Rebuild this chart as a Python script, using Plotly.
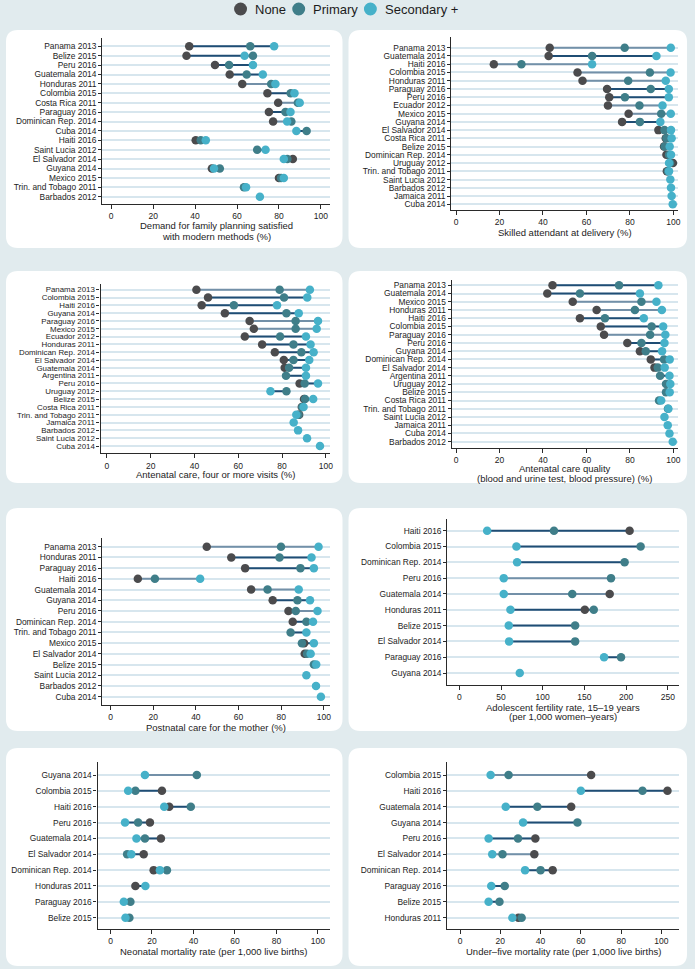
import plotly.graph_objects as go

W, H = 695, 969

# ------------------------------------------------------------------ data
fp_countries = ["Panama 2013", "Belize 2015", "Peru 2016", "Guatemala 2014", "Honduras 2011",
                "Colombia 2015", "Costa Rica 2011", "Paraguay 2016", "Dominican Rep. 2014", "Cuba 2014",
                "Haiti 2016", "Saint Lucia 2012", "El Salvador 2014", "Guyana 2014", "Mexico 2015",
                "Trin. and Tobago 2011", "Barbados 2012"]
fp_none = [37.2, 35.9, 49.5, 56.5, 62.5, 74.5, 79.6, 75.2, 77.2, None, 40.3, None, 86.6, 48.0, 80.0, None, None]
fp_primary = [66.3, 67.6, 56.2, 64.6, 76.3, 85.6, 89.0, 83.1, 85.9, 93.2, 42.7, 69.6, 84.0, 51.8, 81.0, 63.3, None]
fp_secondary = [77.7, 63.6, 67.6, 72.3, 78.3, 87.4, 89.9, 85.5, 83.9, 88.3, 45.1, 73.6, 82.3, 49.0, 82.3, 64.3, 70.9]

sba_countries = ["Panama 2013", "Guatemala 2014", "Haiti 2016", "Colombia 2015", "Honduras 2011",
                 "Paraguay 2016", "Peru 2016", "Ecuador 2012", "Mexico 2015", "Guyana 2014",
                 "El Salvador 2014", "Costa Rica 2011", "Belize 2015", "Dominican Rep. 2014", "Uruguay 2012",
                 "Trin. and Tobago 2011", "Saint Lucia 2012", "Barbados 2012", "Jamaica 2011", "Cuba 2014"]
sba_none = [43.1, 42.6, 17.4, 55.9, 58.2, 69.5, 70.5, 69.9, 79.4, 76.4, 93.1, 96.5, 95.7, 96.8, 99.8, 97.0,
            None, None, None, None]
sba_primary = [77.6, 62.6, 30.1, 89.2, 79.2, 89.6, 77.7, 84.4, 94.4, 84.6, 95.9, 96.8, 96.0, 98.0, 98.5, 97.5,
               None, None, None, None]
sba_secondary = [98.8, 92.2, 62.6, 98.7, 96.5, 97.9, 97.9, 95.0, 98.8, 94.0, 98.9, 99.2, 98.3, 98.9, 98.0, 98.0,
                 98.6, 98.9, 99.2, 99.7]

anc4_countries = ["Panama 2013", "Colombia 2015", "Haiti 2016", "Guyana 2014", "Paraguay 2016", "Mexico 2015",
                  "Ecuador 2012", "Honduras 2011", "Dominican Rep. 2014", "El Salvador 2014", "Guatemala 2014",
                  "Argentina 2011", "Peru 2016", "Uruguay 2012", "Belize 2015", "Costa Rica 2011",
                  "Trin. and Tobago 2011", "Jamaica 2011", "Barbados 2012", "Saint Lucia 2012", "Cuba 2014"]
anc4_none = [40.9, 46.2, 43.3, 53.9, 65.2, 67.1, 63.0, 70.9, 76.7, 80.8, 81.2, None, 88.0, None, 90.0, 89.0,
             87.8, None, None, None, None]
anc4_primary = [78.9, 80.9, 58.0, 82.0, 86.2, 86.2, 79.1, 85.2, 88.8, 85.2, 83.2, 81.8, 90.3, 82.0, 90.5, 89.2,
                87.5, None, None, None, None]
anc4_secondary = [92.7, 91.5, 77.7, 87.6, 96.4, 95.8, 90.9, 93.0, 94.4, 92.4, 90.9, 90.9, 96.4, 74.7, 94.2, 89.8,
                  86.5, 85.3, 87.3, 91.4, 97.3]

ancq_countries = ["Panama 2013", "Guatemala 2014", "Mexico 2015", "Honduras 2011", "Haiti 2016", "Colombia 2015",
                  "Paraguay 2016", "Peru 2016", "Guyana 2014", "Dominican Rep. 2014", "El Salvador 2014",
                  "Argentina 2011", "Uruguay 2012", "Belize 2015", "Costa Rica 2011", "Trin. and Tobago 2011",
                  "Saint Lucia 2012", "Jamaica 2011", "Cuba 2014", "Barbados 2012"]
ancq_none = [44.4, 42.0, 53.7, 64.7, 57.0, 66.6, 68.1, 78.8, 84.6, 89.6, 91.3, None, None, None, None, None,
             None, None, None, None]
ancq_primary = [75.0, 57.0, 85.3, 82.3, 68.5, 90.0, 89.3, 85.3, 87.3, 95.7, 92.8, 93.9, 96.6, 96.6, 93.4, 97.5,
                None, None, None, None]
ancq_secondary = [93.1, 84.6, 92.2, 94.7, 86.4, 95.3, 96.3, 95.9, 94.8, 98.3, 96.0, 98.2, 98.6, 98.3, 94.4, 97.7,
                  95.9, 97.4, 98.2, 99.7]

pnc_countries = ["Panama 2013", "Honduras 2011", "Paraguay 2016", "Haiti 2016", "Guatemala 2014", "Guyana 2014",
                 "Peru 2016", "Dominican Rep. 2014", "Trin. and Tobago 2011", "Mexico 2015", "El Salvador 2014",
                 "Belize 2015", "Saint Lucia 2012", "Barbados 2012", "Cuba 2014"]
pnc_none = [45.1, 56.6, 63.1, 12.8, 65.9, 76.0, 83.4, 85.4, None, 90.7, 91.0, None, None, None, None]
pnc_primary = [79.9, 79.2, 89.0, 20.8, 73.6, 87.6, 86.8, 91.8, 84.4, 89.7, 92.1, 95.3, None, None, None]
pnc_secondary = [97.5, 94.2, 95.3, 42.0, 88.2, 93.5, 97.0, 94.9, 91.8, 95.3, 93.8, 96.4, 91.8, 96.3, 98.6]

afr_countries = ["Haiti 2016", "Colombia 2015", "Dominican Rep. 2014", "Peru 2016", "Guatemala 2014",
                 "Honduras 2011", "Belize 2015", "El Salvador 2014", "Paraguay 2016", "Guyana 2014"]
afr_none = [204.2, None, None, None, 180.3, 150.5, None, None, None, None]
afr_primary = [113.5, 217.4, 198.2, 181.9, 135.4, 161.2, 138.9, 138.9, 193.9, None]
afr_secondary = [33.4, 68.5, 69.3, 53.3, 53.3, 61.3, 59.3, 59.7, 173.6, 72.5]

nmr_countries = ["Guyana 2014", "Colombia 2015", "Haiti 2016", "Peru 2016", "Guatemala 2014", "El Salvador 2014",
                 "Dominican Rep. 2014", "Honduras 2011", "Paraguay 2016", "Belize 2015"]
nmr_none = [None, 24.8, 28.3, 19.0, 24.3, 16.0, 20.8, 12.0, None, None]
nmr_primary = [41.6, 12.0, 38.7, 13.3, 16.6, 8.0, 27.2, None, 9.6, 9.1]
nmr_secondary = [16.6, 8.5, 25.9, 7.0, 12.5, 10.0, 23.8, 16.8, 6.4, 7.2]

u5_countries = ["Colombia 2015", "Haiti 2016", "Guatemala 2014", "Guyana 2014", "Peru 2016", "El Salvador 2014",
                "Dominican Rep. 2014", "Paraguay 2016", "Belize 2015", "Honduras 2011"]
u5_none = [65.1, 103.0, 55.2, None, 37.4, 36.9, 46.0, None, None, 29.0]
u5_primary = [24.1, 90.6, 38.4, 58.3, 28.8, 21.1, 40.0, 22.2, 19.6, 30.6]
u5_secondary = [15.2, 60.0, 22.7, 31.3, 14.2, 16.0, 32.3, 15.5, 14.2, 26.0]

pct_ticks = [0, 20, 40, 60, 80, 100]
afr_ticks = [0, 50, 100, 150, 200, 250]

# ------------------------------------------------------------------ style
FONT = "Liberation Sans, Arial, Helvetica, sans-serif"
TXT = "#1c1c1c"
BG = "#e1ebee"
GRID = "#d7e6ee"
AXC = "#2a2a2a"
C_NONE, C_PRIM, C_SEC = "#4b4b4d", "#3f7e89", "#46b1c9"
LINE_DARK, LINE_LIGHT = "#1f4d74", "#7390a8"
F_TICK, F_NUM, F_TITLE, F_LEG = 8.4, 8.5, 9.5, 13

# rows drawn with the lighter connector
LIGHT_ROWS = [
    {"Honduras 2011", "Costa Rica 2011", "Dominican Rep. 2014"},
    {"Panama 2013", "Haiti 2016", "Colombia 2015", "Honduras 2011", "Ecuador 2012", "Mexico 2015"},
    {"Panama 2013", "Paraguay 2016", "Mexico 2015"},
    {"Mexico 2015", "Honduras 2011", "Paraguay 2016"},
    {"Panama 2013", "Haiti 2016", "Guatemala 2014", "Peru 2016"},
    {"Peru 2016", "Guatemala 2014"},
    {"Guyana 2014"},
    {"Colombia 2015", "El Salvador 2014"},
]

panels = [
    dict(c=fp_countries, n=fp_none, p=fp_primary, s=fp_secondary, ticks=pct_ticks, fs=F_TICK,
         box=(102.7, 331.7, 38, 204), tk=(111.7, 322.3), cat=(46.3, 196.7),
         title=[("Demand for family planning satisfied", 226), ("with modern methods (%)", 236)]),
    dict(c=sba_countries, n=sba_none, p=sba_primary, s=sba_secondary, ticks=pct_ticks, fs=F_TICK,
         box=(453.3, 681, 37, 210), tk=(458, 676.3), cat=(47.7, 204.3),
         title=[("Skilled attendant at delivery (%)", 232)]),
    dict(c=anc4_countries, n=anc4_none, p=anc4_primary, s=anc4_secondary, ticks=pct_ticks, fs=7.9,
         box=(101, 331.7, 284, 453.3), tk=(107.3, 327.3), cat=(289.7, 446),
         title=[("Antenatal care, four or more visits (%)", 474.5)]),
    dict(c=ancq_countries, n=ancq_none, p=ancq_primary, s=ancq_secondary, ticks=pct_ticks, fs=F_TICK,
         box=(453.7, 681, 280, 447.7), tk=(458, 676.3), cat=(285.3, 441.7),
         title=[("Antenatal care quality", 469), ("(blood and urine test, blood pressure) (%)", 478)]),
    dict(c=pnc_countries, n=pnc_none, p=pnc_primary, s=pnc_secondary, ticks=pct_ticks, fs=F_TICK,
         box=(102.7, 331.7, 537.7, 705), tk=(111, 325.3), cat=(546.7, 696.7),
         title=[("Postnatal care for the mother (%)", 727)]),
    dict(c=afr_countries, n=afr_none, p=afr_primary, s=afr_secondary, ticks=afr_ticks, fs=F_TICK,
         box=(449.3, 682.3, 519, 685), tk=(461.3, 670.7), cat=(530.7, 673),
         title=[("Adolescent fertility rate, 15\u201319 years", 707), ("(per 1,000 women\u2013years)", 716)]),
    dict(c=nmr_countries, n=nmr_none, p=nmr_primary, s=nmr_secondary, ticks=pct_ticks, fs=F_TICK,
         box=(98, 331.7, 762.3, 929), tk=(111, 319.3), cat=(775, 917.7),
         title=[("Neonatal mortality rate (per 1,000 live births)", 951)]),
    dict(c=u5_countries, n=u5_none, p=u5_primary, s=u5_secondary, ticks=pct_ticks, fs=F_TICK,
         box=(449, 682.3, 762.3, 929), tk=(462, 664.3), cat=(775, 917.7),
         title=[("Under\u2013five mortality rate (per 1,000 live births)", 951)]),
]

fig = go.Figure()
layout = dict(width=W, height=H, autosize=False, margin=dict(l=0, r=0, t=0, b=0),
              paper_bgcolor=BG, plot_bgcolor="rgba(0,0,0,0)", showlegend=False,
              font=dict(family=FONT, color=TXT, size=F_TICK))
shapes, annotations = [], []


def rounded(x0, x1, y0, y1, r=12):
    X = lambda v: v / W
    Y = lambda v: 1 - v / H
    return ("M {a},{b} L {c},{b} Q {d},{b} {d},{e} L {d},{f} Q {d},{g} {c},{g} "
            "L {a},{g} Q {h},{g} {h},{f} L {h},{e} Q {h},{b} {a},{b} Z").format(
        a=X(x0 + r), b=Y(y0), c=X(x1 - r), d=X(x1), e=Y(y0 + r), f=Y(y1 - r), g=Y(y1), h=X(x0))


# white panels
for (x0, x1) in [(6, 344), (350, 690)]:
    for (y0, y1) in [(30, 248), (271, 483), (508, 731), (748, 966)]:
        shapes.append(dict(type="path", xref="paper", yref="paper", path=rounded(x0, x1, y0, y1),
                           fillcolor="#ffffff", line=dict(width=0), layer="below"))

for k, pn in enumerate(panels, start=1):
    sfx = "" if k == 1 else str(k)
    xa, ya = "x" + sfx, "y" + sfx
    cats = pn["c"]
    nrow = len(cats)
    ypos = list(range(nrow))
    light = LIGHT_ROWS[k - 1]

    for tone, color in (("dark", LINE_DARK), ("light", LINE_LIGHT)):
        xs, ys = [], []
        for i, name in enumerate(cats):
            vals = [v for v in (pn["n"][i], pn["p"][i], pn["s"][i]) if v is not None]
            if len(vals) < 2:
                continue
            if (name in light) != (tone == "light"):
                continue
            xs += [min(vals), max(vals), None]
            ys += [i, i, None]
        if xs:
            fig.add_trace(go.Scatter(x=xs, y=ys, mode="lines", line=dict(color=color, width=2),
                                     xaxis=xa, yaxis=ya, hoverinfo="skip"))

    for vals, nm, col in ((pn["n"], "None", C_NONE), (pn["p"], "Primary", C_PRIM),
                          (pn["s"], "Secondary +", C_SEC)):
        fig.add_trace(go.Scatter(x=vals, y=ypos, mode="markers", name=nm, text=cats,
                                 marker=dict(color=col, size=8.5, line=dict(width=0)),
                                 xaxis=xa, yaxis=ya))

    bx0, bx1, by0, by1 = pn["box"]
    t0, t1 = pn["tk"]
    vmax = pn["ticks"][-1]
    scale = (t1 - t0) / vmax
    xr = [(bx0 - t0) / scale, (bx1 - t0) / scale]
    c0, c1 = pn["cat"]
    sp = (c1 - c0) / (nrow - 1)
    yr = [(nrow - 1) + (by1 - c1) / sp, -(c0 - by0) / sp]

    layout["xaxis" + sfx] = dict(domain=[bx0 / W, bx1 / W], range=xr, anchor=ya, tickvals=pn["ticks"],
                                 showgrid=False, zeroline=False, showline=True, linecolor=AXC, linewidth=1.3,
                                 ticks="outside", ticklen=4, tickwidth=1, tickcolor=AXC,
                                 tickfont=dict(size=F_NUM, family=FONT, color=TXT), fixedrange=True)
    layout["yaxis" + sfx] = dict(domain=[1 - by1 / H, 1 - by0 / H], range=yr, anchor=xa, tickvals=ypos,
                                 ticktext=cats, showgrid=True, gridcolor=GRID, gridwidth=1.5,
                                 zeroline=False, showline=True, linecolor=AXC, linewidth=1.3,
                                 ticks="outside", ticklen=3, tickwidth=1, tickcolor=AXC,
                                 tickfont=dict(size=pn["fs"], family=FONT, color=TXT), fixedrange=True)

    cx = (bx0 + bx1) / 2 / W
    for txt, yy in pn["title"]:
        annotations.append(dict(text=txt, x=cx, y=1 - yy / H, xref="paper", yref="paper",
                                xanchor="center", yanchor="middle", showarrow=False,
                                font=dict(size=F_TITLE, family=FONT, color=TXT)))

# legend (top, centred)
for cxp, col, label, tx in ((241.6, C_NONE, "None", 254), (300, C_PRIM, "Primary", 312),
                            (372, C_SEC, "Secondary +", 385)):
    r = 6.5
    shapes.append(dict(type="circle", xref="paper", yref="paper", x0=(cxp - r) / W, x1=(cxp + r) / W,
                       y0=1 - (9 + r) / H, y1=1 - (9 - r) / H, fillcolor=col, line=dict(width=0)))
    annotations.append(dict(text=label, x=tx / W, y=1 - 9.5 / H, xref="paper", yref="paper",
                            xanchor="left", yanchor="middle", showarrow=False,
                            font=dict(size=F_LEG, family=FONT, color=TXT)))

layout["shapes"] = shapes
layout["annotations"] = annotations
fig.update_layout(**layout)
fig.write_html("out.html",
               config={"displayModeBar": False},
               post_script="document.body.style.margin='0px';document.body.style.background='%s';" % BG)
